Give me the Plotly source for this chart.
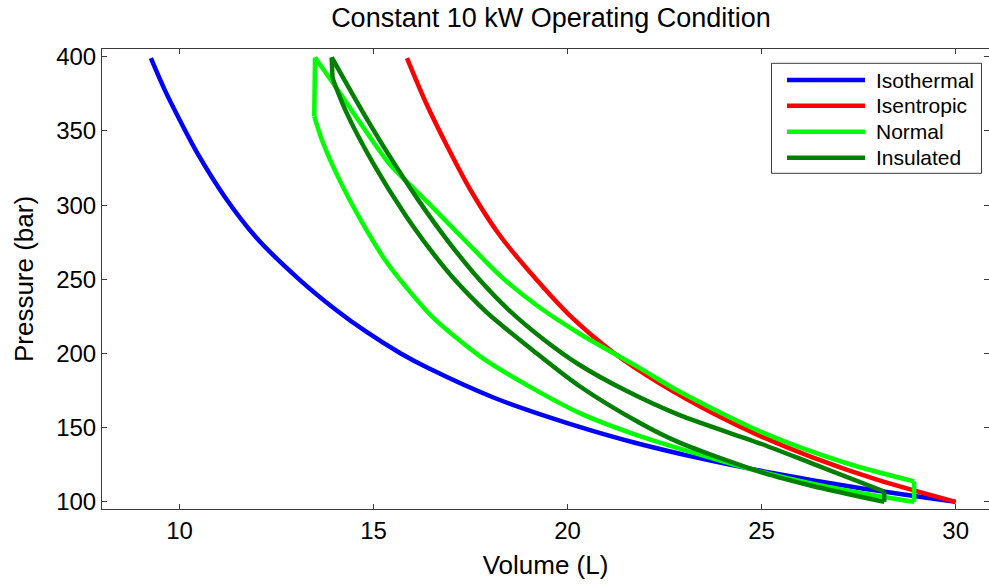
import plotly.graph_objects as go

# ---- data ----
iso_v = [9.26, 9.61, 10.03, 10.48, 11.18, 11.98, 13.08, 14.0, 14.79, 15.7, 16.42, 18.12, 20.37, 21.71, 23.3, 25.17, 27.36, 30.0]
iso_p = [399, 378, 356, 334, 305, 278, 250, 230, 215, 200, 190, 170, 150, 140, 130, 120, 110, 100]

isen_v = [15.86, 16.33, 16.89, 17.50, 18.24, 19.19, 20.08, 21.21, 22.36, 23.72, 24.91, 26.31, 27.97, 30.0]
isen_p = [399, 370, 340, 310, 280, 250, 225, 200, 180, 160, 145, 130, 115, 100]

# Normal: lower branch and upper branch (both listed left -> right)
norm_low_v = [13.47, 13.68, 14.11, 14.71, 15.31, 15.83, 16.52, 17.8, 19.1, 20.3, 21.84, 23.73, 25.0, 26.31, 28.03, 28.93]
norm_low_p = [359.8, 343, 317.5, 288, 262.5, 245, 224.5, 197, 176.5, 160, 144.5, 129.4, 120.2, 112.3, 103.8, 100]
norm_up_v = [13.49, 14.0, 14.6, 15.4, 16.43, 17.4, 18.3, 19.2, 20.3, 21.84, 22.87, 25.0, 27.17, 28.93]
norm_up_p = [399.5, 380.5, 357.5, 328, 301, 275, 251.5, 232.5, 213.5, 190.5, 174.5, 147, 126.2, 113.8]

# Insulated: lower branch and upper branch (both listed left -> right)
ins_low_v = [13.94, 14.28, 14.97, 15.83, 16.6, 17.0, 17.9, 19.2, 20.3, 21.84, 22.87, 25.0, 26.31, 28.16]
ins_low_p = [385.6, 363.5, 329, 292.9, 265.2, 252.4, 228.1, 200.1, 178.1, 153.5, 140.1, 119.9, 110.7, 100]
ins_up_v = [13.92, 14.71, 15.4, 16.17, 16.95, 17.72, 18.5, 19.4, 20.3, 21.5, 22.87, 25.0, 26.31, 28.16]
ins_up_p = [399.5, 363.2, 333.5, 302.7, 274.6, 250, 228.9, 209.1, 192.4, 175, 158.6, 139, 125.8, 107]

series_names = ["Isothermal", "Isentropic", "Normal", "Insulated"]
series_colors = ["#0000FF", "#FF0000", "#00FF00", "#007F00"]

x_ticks = [10, 15, 20, 25, 30]
y_ticks = [100, 150, 200, 250, 300, 350, 400]

FONT = "Arial, Liberation Sans, sans-serif"
LW = 4.5

fig = go.Figure()


def curve(v, p, color):
    fig.add_trace(go.Scatter(x=v, y=p, mode="lines", showlegend=False,
                             line=dict(color=color, width=LW, shape="spline", smoothing=0.8)))


def segment(v, p, color):
    fig.add_trace(go.Scatter(x=v, y=p, mode="lines", showlegend=False,
                             line=dict(color=color, width=LW)))


curve(iso_v, iso_p, series_colors[0])
curve(isen_v, isen_p, series_colors[1])

for low_v, low_p, up_v, up_p, c in [
        (norm_low_v, norm_low_p, norm_up_v, norm_up_p, series_colors[2]),
        (ins_low_v, ins_low_p, ins_up_v, ins_up_p, series_colors[3])]:
    curve(low_v, low_p, c)
    segment([low_v[-1], up_v[-1]], [low_p[-1], up_p[-1]], c)
    curve(up_v, up_p, c)
    segment([up_v[0], low_v[0]], [up_p[0], low_p[0]], c)

axis_common = dict(showgrid=False, zeroline=False, showline=True, linecolor="#3a3a3a", linewidth=1,
                   mirror="ticks", ticks="inside", ticklen=5, tickcolor="#3a3a3a",
                   tickfont=dict(family=FONT, size=24, color="black"))

fig.update_layout(
    width=989, height=584,
    margin=dict(l=102, r=0, t=49, b=75),
    paper_bgcolor="white", plot_bgcolor="white",
    title=dict(text="Constant 10 kW Operating Condition", x=551 / 989, xref="container",
               y=1 - 18 / 584, yref="container", yanchor="middle", xanchor="center",
               font=dict(family=FONT, size=27, color="black")),
    xaxis=dict(range=[8, 30.86], tickvals=x_ticks, **axis_common,
               title=dict(text="Volume (L)", font=dict(family=FONT, size=26, color="black"), standoff=13)),
    yaxis=dict(range=[95.2, 405.2], tickvals=y_ticks, **axis_common,
               title=dict(text="Pressure (bar)", font=dict(family=FONT, size=26, color="black"), standoff=15)),
)

# legend drawn manually
lx0, lx1 = (771.5 - 102) / 887, (981.5 - 102) / 887
ly0, ly1 = (509 - 173.3) / 460, (509 - 63.3) / 460
fig.add_shape(type="rect", xref="paper", yref="paper", x0=lx0, x1=lx1, y0=ly0, y1=ly1,
              line=dict(color="#3a3a3a", width=1), fillcolor="white", layer="above")
row_py = [80, 105.7, 131.7, 157.7]
for name, color, py in zip(series_names, series_colors, row_py):
    yy = (509 - py) / 460
    fig.add_shape(type="line", xref="paper", yref="paper",
                  x0=(787 - 102) / 887, x1=(865 - 102) / 887, y0=yy, y1=yy,
                  line=dict(color=color, width=LW), layer="above")
    fig.add_annotation(text=name, xref="paper", yref="paper", x=(874 - 102) / 887, y=yy,
                       xanchor="left", yanchor="middle", showarrow=False,
                       font=dict(family=FONT, size=21, color="black"))

fig.write_html("out.html")
